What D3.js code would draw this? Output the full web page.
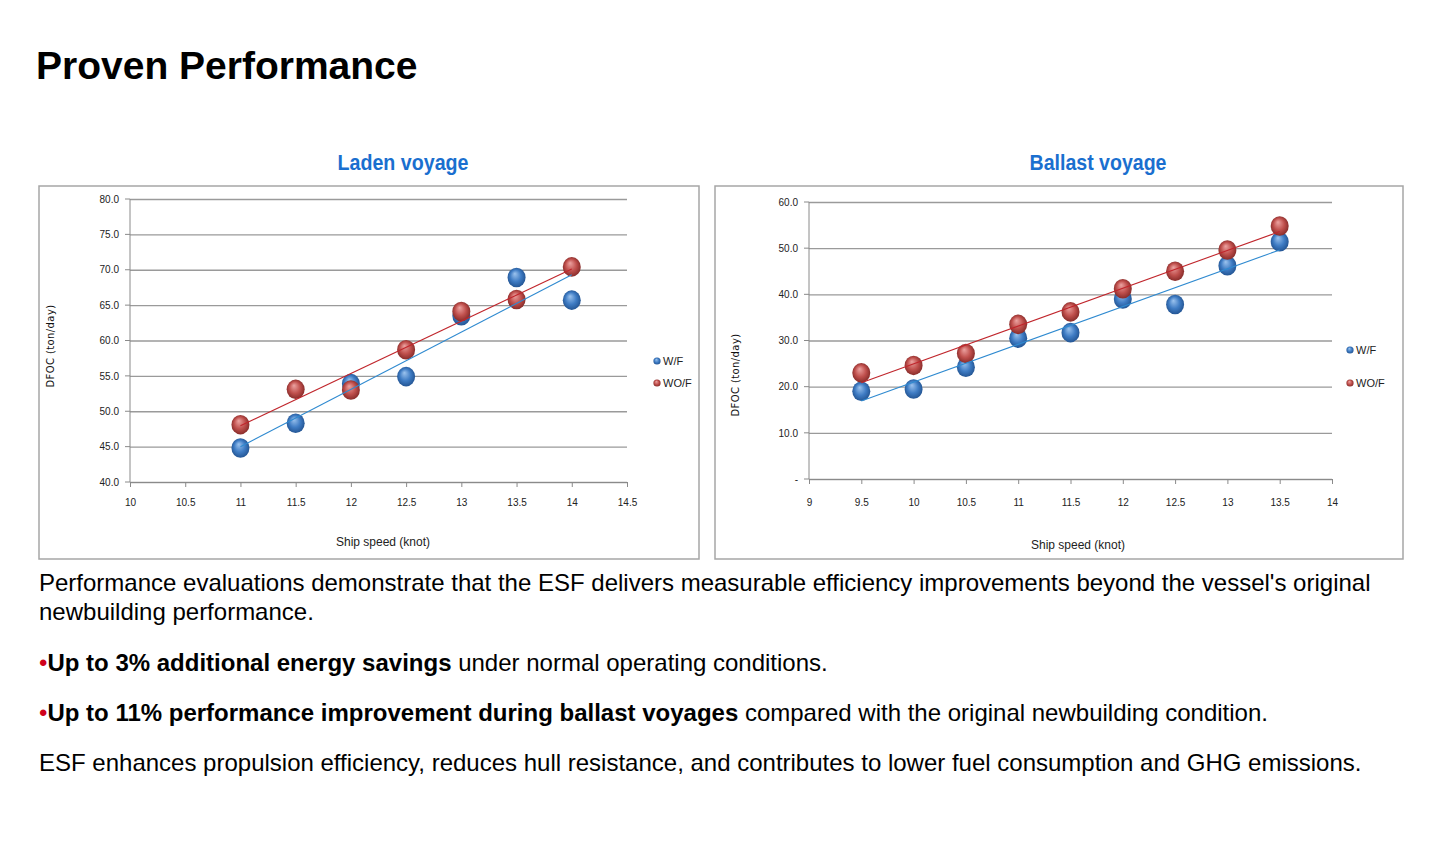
<!DOCTYPE html>
<html>
<head>
<meta charset="utf-8">
<script src="https://cdn.jsdelivr.net/npm/d3@7"></script>
<style>
  body { margin: 0; background: #fff; }
  svg { display: block; }
</style>
</head>
<body>
<svg id="slide" width="1446" height="854"></svg>
<script>
// laden voyage
const ladenSpeed = [11, 11.5, 12, 12.5, 13, 13.5, 14];
const ladenWF = [44.8, 48.3, 53.9, 54.9, 63.5, 68.9, 65.7];
const ladenWOF = [48.1, 53.1, 53.0, 58.7, 64.1, 65.8, 70.4];
const ladenXTicks = [10, 10.5, 11, 11.5, 12, 12.5, 13, 13.5, 14, 14.5];
const ladenYTicks = [40, 45, 50, 55, 60, 65, 70, 75, 80];

// ballast voyage
const ballastSpeed = [9.5, 10, 10.5, 11, 11.5, 12, 12.5, 13, 13.5];
const ballastWF = [19.0, 19.5, 24.2, 30.5, 31.7, 39.0, 37.8, 46.2, 51.4];
const ballastWOF = [23.0, 24.6, 27.2, 33.5, 36.2, 41.2, 45.0, 49.6, 54.8];
const ballastXTicks = [9, 9.5, 10, 10.5, 11, 11.5, 12, 12.5, 13, 13.5, 14];
const ballastYTicks = [0, 10, 20, 30, 40, 50, 60];

const seriesNames = ['W/F', 'WO/F'];

const svg = d3.select('#slide');
const narrow = '"Liberation Sans Narrow", "Arial Narrow", "Liberation Sans", sans-serif';

// sphere gradients
const defs = svg.append('defs');
function sphere(id, light, mid, dark) {
  const g = defs.append('radialGradient').attr('id', id)
    .attr('cx', '50%').attr('cy', '50%').attr('r', '55%')
    .attr('fx', '40%').attr('fy', '30%');
  g.append('stop').attr('offset', '0%').attr('stop-color', light);
  g.append('stop').attr('offset', '55%').attr('stop-color', mid);
  g.append('stop').attr('offset', '100%').attr('stop-color', dark);
}
sphere('ballBlue', '#9cc3ee', '#3f7cc4', '#1f4f8c');
sphere('ballRed', '#eca3a1', '#c0504d', '#7f2624');

svg.append('text')
  .attr('x', 36).attr('y', 79)
  .attr('font-family', '"Liberation Sans", Arial, sans-serif')
  .attr('font-weight', 'bold').attr('font-size', 39)
  .text('Proven Performance');

function fit(xs, ys) {
  const mx = d3.mean(xs), my = d3.mean(ys);
  const sxy = d3.sum(xs, (x, i) => (x - mx) * (ys[i] - my));
  const sxx = d3.sum(xs, x => (x - mx) * (x - mx));
  const b = sxy / sxx;
  return x => my + b * (x - mx);
}

function drawChart(o) {
  svg.append('text')
    .attr('x', o.titleX).attr('y', 170)
    .attr('text-anchor', 'middle')
    .attr('font-family', narrow).attr('font-weight', 'bold')
    .attr('font-size', 22).attr('fill', '#1a6fcf')
    .attr('textLength', o.titleLen).attr('lengthAdjust', 'spacingAndGlyphs')
    .text(o.title);

  svg.append('rect')
    .attr('x', o.box[0]).attr('y', o.box[1])
    .attr('width', o.box[2]).attr('height', o.box[3])
    .attr('fill', '#fff').attr('stroke', '#a6a6a6').attr('stroke-width', 1.5);

  const x = d3.scaleLinear().domain(d3.extent(o.xTicks)).range(o.xRange);
  const y = d3.scaleLinear().domain(d3.extent(o.yTicks)).range(o.yRange);

  const g = svg.append('g');

  // gridlines
  g.append('g')
    .attr('transform', `translate(${o.xRange[0]},0)`)
    .call(d3.axisLeft(y).tickValues(o.yTicks)
      .tickSize(-(o.xRange[1] - o.xRange[0]))
      .tickFormat(o.yFormat))
    .call(a => a.select('.domain').remove())
    .call(a => a.selectAll('.tick line')
      .attr('stroke', '#9a9a9a').attr('stroke-width', 1.3))
    .call(a => a.selectAll('.tick text')
      .attr('x', -11).attr('dy', '0.32em')
      .attr('font-family', narrow).attr('font-size', 10).attr('fill', '#222'));

  // small y ticks
  g.append('g')
    .attr('transform', `translate(${o.xRange[0]},0)`)
    .selectAll('line').data(o.yTicks).join('line')
    .attr('x1', -5).attr('x2', 0)
    .attr('y1', d => y(d)).attr('y2', d => y(d))
    .attr('stroke', '#8a8a8a');

  g.append('line')
    .attr('x1', o.xRange[0]).attr('x2', o.xRange[0])
    .attr('y1', o.yRange[0]).attr('y2', o.yRange[1])
    .attr('stroke', '#8a8a8a');

  g.append('g')
    .attr('transform', `translate(0,${o.yRange[0]})`)
    .call(d3.axisBottom(x).tickValues(o.xTicks).tickSize(5).tickSizeOuter(0)
      .tickFormat(d3.format('')))
    .call(a => a.select('.domain').attr('stroke', '#8a8a8a'))
    .call(a => a.selectAll('.tick line').attr('stroke', '#8a8a8a'))
    .call(a => a.selectAll('.tick text')
      .attr('y', o.xTickY)
      .attr('font-family', narrow).attr('font-size', 10).attr('fill', '#222'));

  // axis titles
  svg.append('text')
    .attr('x', o.xLabelPos[0]).attr('y', o.xLabelPos[1])
    .attr('text-anchor', 'middle')
    .attr('font-family', narrow).attr('font-size', 12).attr('fill', '#222')
    .text(o.xLabel);

  svg.append('text')
    .attr('transform', `translate(${o.yLabelPos[0]},${o.yLabelPos[1]}) rotate(-90)`)
    .attr('text-anchor', 'middle')
    .attr('font-family', '"DejaVu Sans", sans-serif').attr('font-size', 10)
    .attr('letter-spacing', 0.4).attr('fill', '#111')
    .text('DFOC (ton/day)');

  const sets = [
    { vals: o.wf, fill: 'url(#ballBlue)', line: '#2f8ad0' },
    { vals: o.wof, fill: 'url(#ballRed)', line: '#c0262c' }
  ];

  sets.forEach(s => {
    g.selectAll(null).data(o.speed).join('ellipse')
      .attr('cx', d => x(d))
      .attr('cy', (d, i) => y(s.vals[i]))
      .attr('rx', 9).attr('ry', 9.8)
      .attr('fill', s.fill);
  });

  sets.forEach(s => {
    const f = fit(o.speed, s.vals);
    const ends = d3.extent(o.speed);
    g.append('line')
      .attr('x1', x(ends[0])).attr('y1', y(f(ends[0])))
      .attr('x2', x(ends[1])).attr('y2', y(f(ends[1])))
      .attr('stroke', s.line).attr('stroke-width', 1.1);
  });

  // legend
  const lg = svg.append('g');
  sets.forEach((s, i) => {
    const ly = o.legendPos[1] + i * o.legendGap;
    lg.append('circle')
      .attr('cx', o.legendPos[0]).attr('cy', ly).attr('r', 3.6)
      .attr('fill', s.fill);
    lg.append('text')
      .attr('x', o.legendPos[0] + 6).attr('y', ly).attr('dy', '0.35em')
      .attr('font-family', narrow).attr('font-size', 11).attr('fill', '#222')
      .text(seriesNames[i]);
  });
}

drawChart({
  title: 'Laden voyage', titleX: 403, titleLen: 131,
  box: [39, 186, 660, 373],
  xTicks: ladenXTicks, yTicks: ladenYTicks,
  xRange: [130, 627], yRange: [482, 199], xTickY: 17,
  yFormat: d3.format('.1f'),
  speed: ladenSpeed, wf: ladenWF, wof: ladenWOF,
  xLabel: 'Ship speed (knot)', xLabelPos: [383, 546],
  yLabelPos: [54, 346],
  legendPos: [657, 361], legendGap: 22
});

drawChart({
  title: 'Ballast voyage', titleX: 1098, titleLen: 137,
  box: [715, 186, 688, 373],
  xTicks: ballastXTicks, yTicks: ballastYTicks,
  xRange: [809, 1332], yRange: [479, 202], xTickY: 20,
  yFormat: d => d === 0 ? '-' : d3.format('.1f')(d),
  speed: ballastSpeed, wf: ballastWF, wof: ballastWOF,
  xLabel: 'Ship speed (knot)', xLabelPos: [1078, 549],
  yLabelPos: [739, 375],
  legendPos: [1350, 350], legendGap: 33
});

// body text
const body = svg.append('g')
  .attr('font-family', '"Liberation Sans", Arial, sans-serif')
  .attr('font-size', 24).attr('fill', '#000');

const lines = [
  { y: 591, parts: [['', "Performance evaluations demonstrate that the ESF delivers measurable efficiency improvements beyond the vessel's original"]] },
  { y: 620, parts: [['', 'newbuilding performance.']] },
  { y: 671, bullet: true, parts: [['b', 'Up to 3% additional energy savings'], ['', ' under normal operating conditions.']] },
  { y: 721, bullet: true, parts: [['b', 'Up to 11% performance improvement during ballast voyages'], ['', ' compared with the original newbuilding condition.']] },
  { y: 771, parts: [['', 'ESF enhances propulsion efficiency, reduces hull resistance, and contributes to lower fuel consumption and GHG emissions.']] }
];

lines.forEach(l => {
  const t = body.append('text').attr('x', 39).attr('y', l.y).attr('xml:space', 'preserve');
  if (l.bullet) t.append('tspan').attr('fill', '#d0021b').text('•');
  l.parts.forEach(p => {
    t.append('tspan').attr('font-weight', p[0] === 'b' ? 'bold' : 'normal').text(p[1]);
  });
});
</script>
</body>
</html>
